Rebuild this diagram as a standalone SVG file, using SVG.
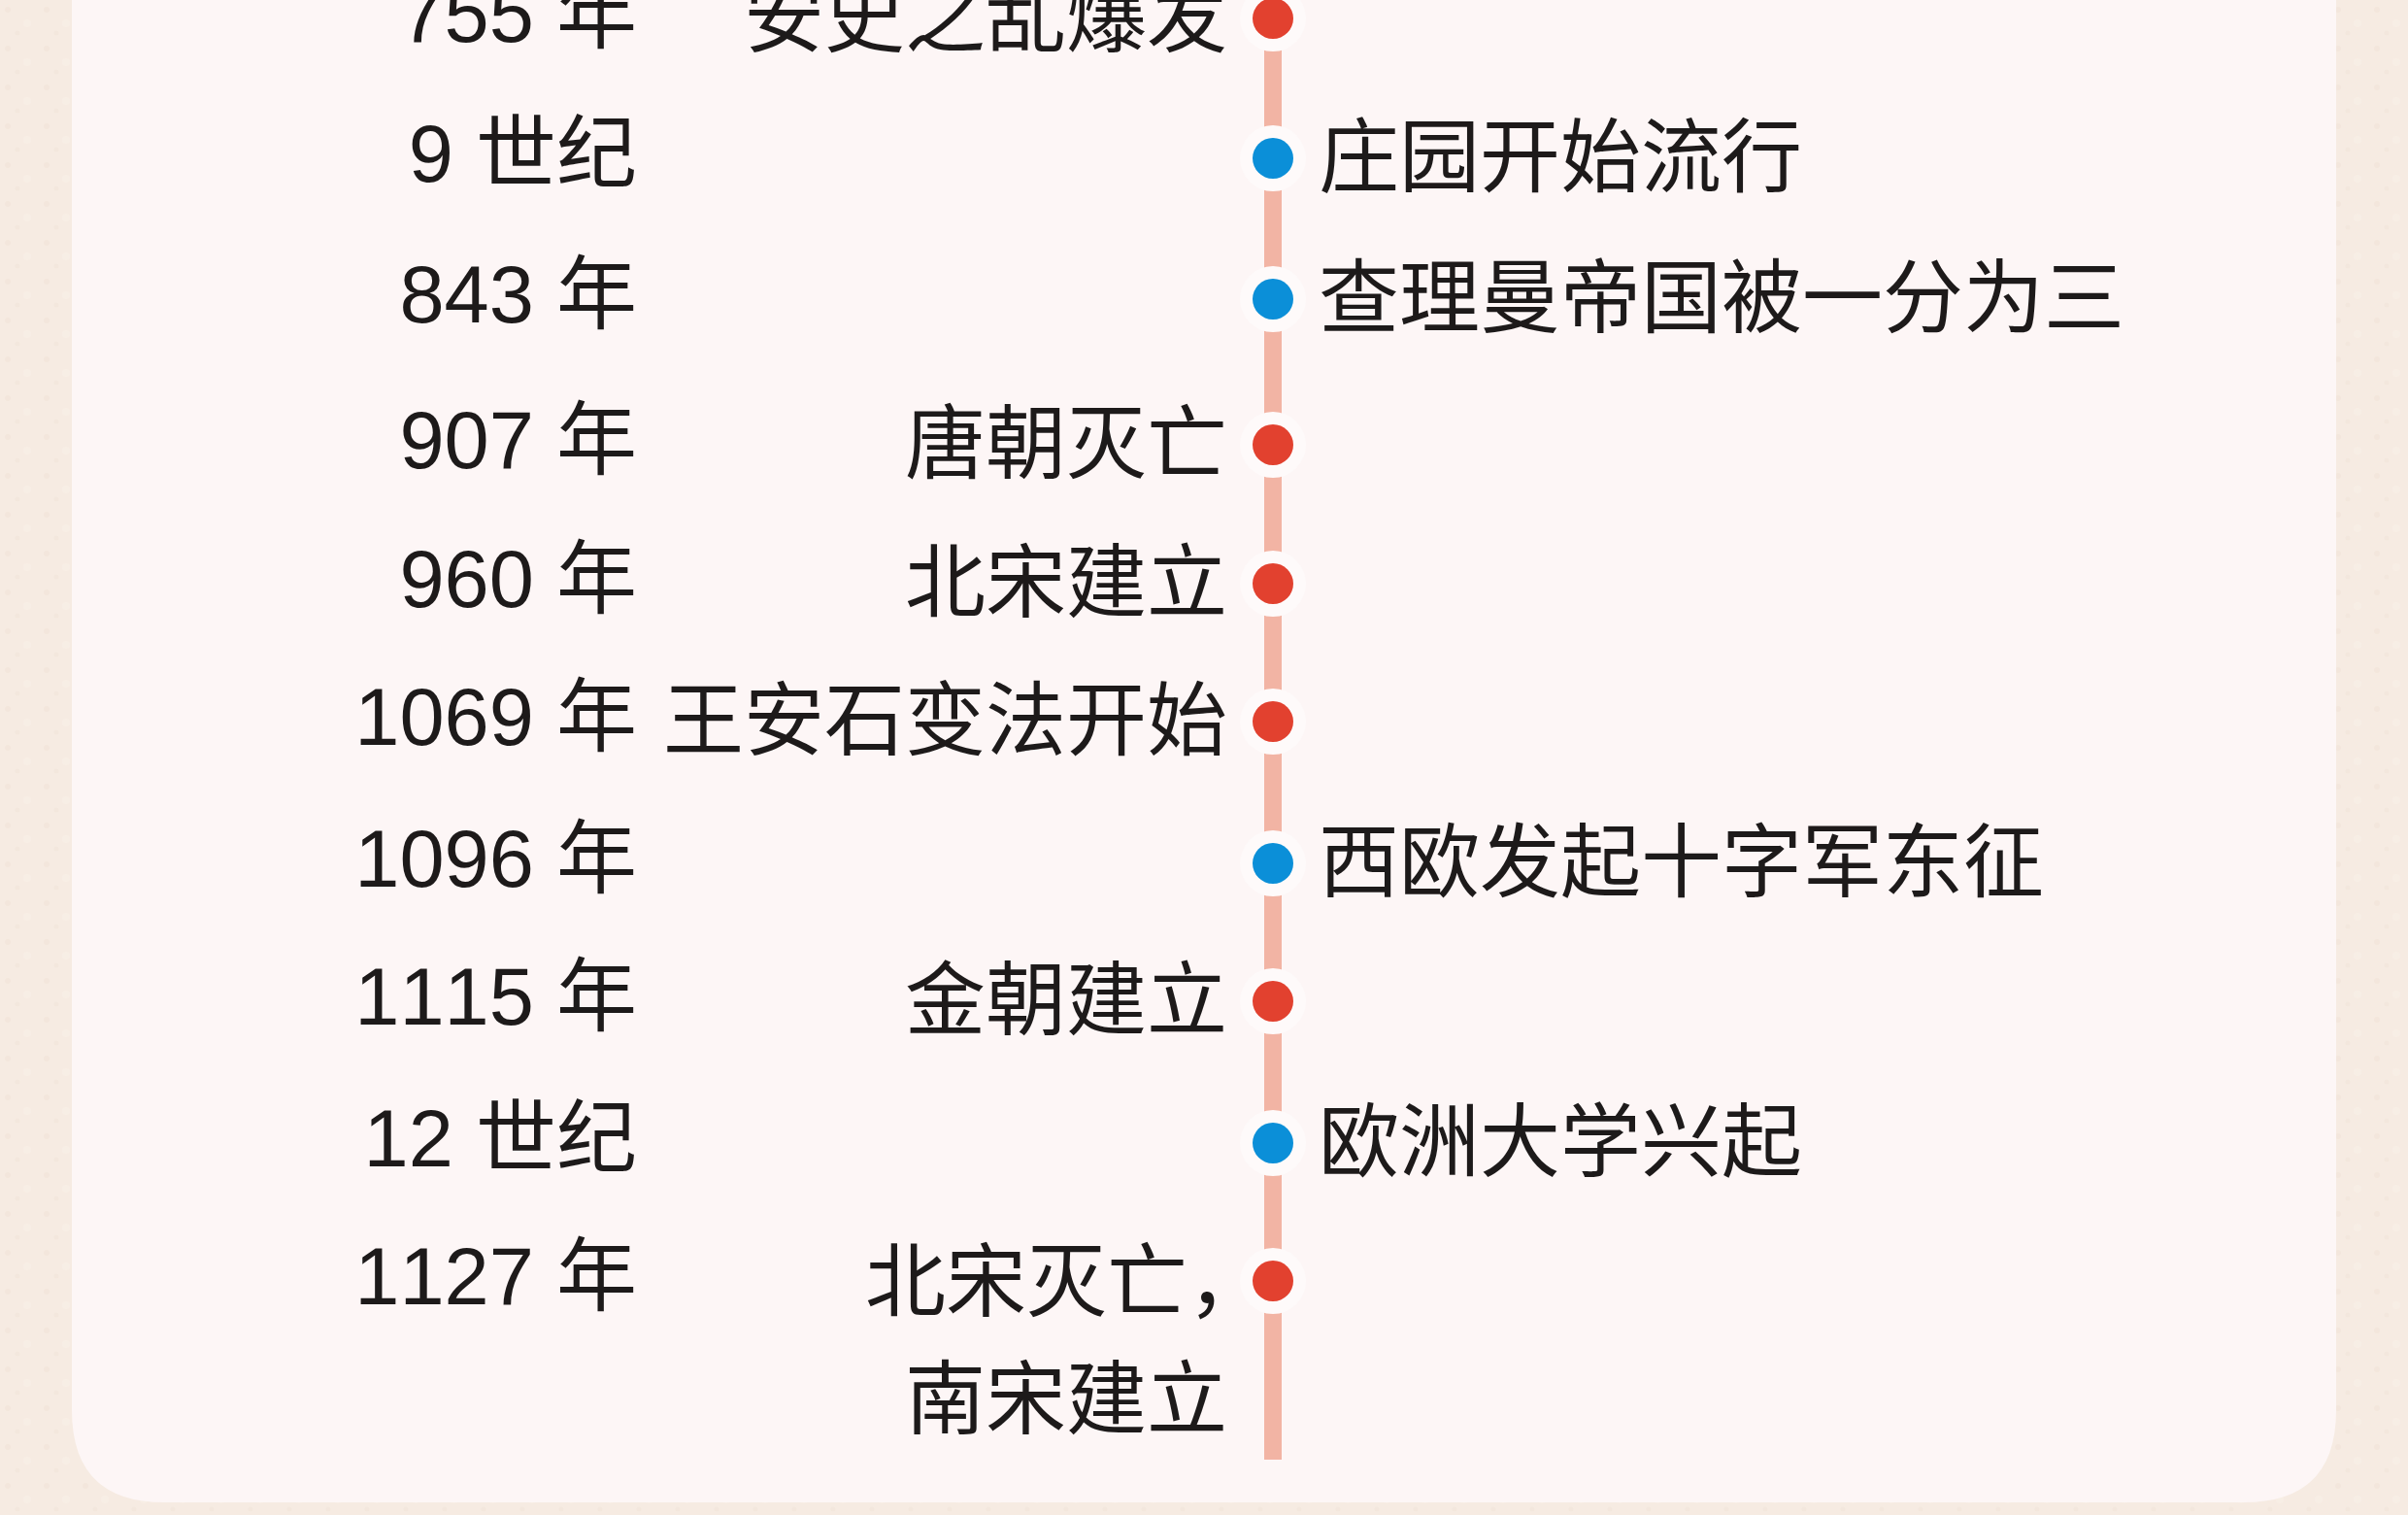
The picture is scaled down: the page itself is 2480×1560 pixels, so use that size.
<svg xmlns="http://www.w3.org/2000/svg" width="2480" height="1560" viewBox="0 0 2480 1560">
  <style>
    .yr { font-family: "Liberation Sans", "Noto Sans CJK SC", sans-serif; font-size: 83px; fill: #1d1a1a; text-anchor: end; font-kerning: none; }
    .ev { font-family: "Noto Sans CJK SC", "Liberation Sans", sans-serif; font-size: 83px; fill: #1d1a1a; }
    .evL { text-anchor: end; }
    .evR { text-anchor: start; }
    .halo { fill: #fefafa; }
    .red { fill: #e2412f; }
    .blue { fill: #0b8fd8; }
  </style>
  <defs>
    <pattern id="grain" width="40" height="40" patternUnits="userSpaceOnUse">
      <rect width="40" height="40" fill="#f6ebe2"/>
      <circle cx="8" cy="10" r="3" fill="#f0e2d6" opacity="0.5"/>
      <circle cx="28" cy="24" r="4" fill="#f9f0e8" opacity="0.6"/>
      <circle cx="18" cy="34" r="2.5" fill="#eee0d4" opacity="0.4"/>
    </pattern>
  </defs>

  <rect x="0" y="0" width="2480" height="1560" fill="url(#grain)"/>
  <path d="M74,-100 H2406 V1452 Q2406,1547 2311,1547 H169 Q74,1547 74,1452 Z" fill="#fdf6f6"/>

  <g id="connectors">
    <line x1="1311" y1="0" x2="1311" y2="1503" stroke="#f2b4a4" stroke-width="18"/>
  </g>

  <g id="row-755">
    <text class="yr" x="656" y="43">755 年</text>
    <text class="ev evL" x="1264" y="47">安史之乱爆发</text>
    <circle class="halo" cx="1311" cy="19" r="34"/>
    <circle class="red" cx="1311" cy="19" r="21"/>
  </g>
  <g id="row-9c">
    <text class="yr" x="656" y="187">9 世纪</text>
    <circle class="halo" cx="1311" cy="163" r="34"/>
    <circle class="blue" cx="1311" cy="163" r="21"/>
    <text class="ev evR" x="1358" y="191">庄园开始流行</text>
  </g>
  <g id="row-843">
    <text class="yr" x="656" y="332">843 年</text>
    <circle class="halo" cx="1311" cy="308" r="34"/>
    <circle class="blue" cx="1311" cy="308" r="21"/>
    <text class="ev evR" x="1358" y="336">查理曼帝国被一分为三</text>
  </g>
  <g id="row-907">
    <text class="yr" x="656" y="482">907 年</text>
    <text class="ev evL" x="1264" y="486">唐朝灭亡</text>
    <circle class="halo" cx="1311" cy="458" r="34"/>
    <circle class="red" cx="1311" cy="458" r="21"/>
  </g>
  <g id="row-960">
    <text class="yr" x="656" y="625">960 年</text>
    <text class="ev evL" x="1264" y="629">北宋建立</text>
    <circle class="halo" cx="1311" cy="601" r="34"/>
    <circle class="red" cx="1311" cy="601" r="21"/>
  </g>
  <g id="row-1069">
    <text class="yr" x="656" y="767">1069 年</text>
    <text class="ev evL" x="1264" y="771">王安石变法开始</text>
    <circle class="halo" cx="1311" cy="743" r="34"/>
    <circle class="red" cx="1311" cy="743" r="21"/>
  </g>
  <g id="row-1096">
    <text class="yr" x="656" y="913">1096 年</text>
    <circle class="halo" cx="1311" cy="889" r="34"/>
    <circle class="blue" cx="1311" cy="889" r="21"/>
    <text class="ev evR" x="1358" y="917">西欧发起十字军东征</text>
  </g>
  <g id="row-1115">
    <text class="yr" x="656" y="1055">1115 年</text>
    <text class="ev evL" x="1264" y="1059">金朝建立</text>
    <circle class="halo" cx="1311" cy="1031" r="34"/>
    <circle class="red" cx="1311" cy="1031" r="21"/>
  </g>
  <g id="row-12c">
    <text class="yr" x="656" y="1201">12 世纪</text>
    <circle class="halo" cx="1311" cy="1177" r="34"/>
    <circle class="blue" cx="1311" cy="1177" r="21"/>
    <text class="ev evR" x="1358" y="1205">欧洲大学兴起</text>
  </g>
  <g id="row-1127">
    <text class="yr" x="656" y="1343">1127 年</text>
    <text class="ev evL" x="1306" y="1349">北宋灭亡，</text>
    <text class="ev evL" x="1264" y="1470">南宋建立</text>
    <circle class="halo" cx="1311" cy="1319" r="34"/>
    <circle class="red" cx="1311" cy="1319" r="21"/>
  </g>
</svg>
